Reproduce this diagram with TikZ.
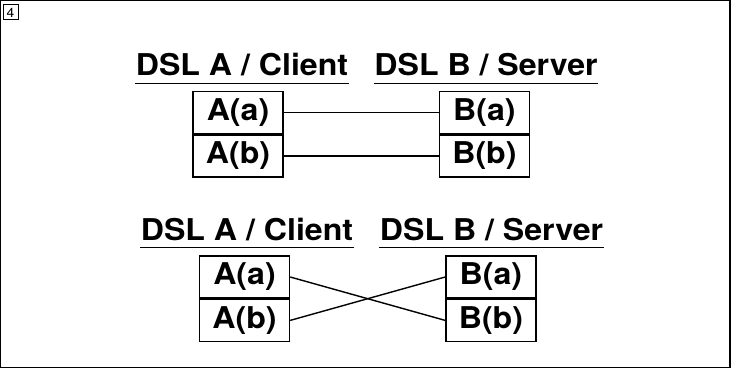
\documentclass[tikz,border=0pt]{standalone}
\usepackage{fontspec}
\setmainfont{TeX Gyre Heros}[FakeStretch=1.07]
\usetikzlibrary{positioning}

\begin{document}
\begin{tikzpicture}[x=1pt, y=-1pt, line width=1.4pt,
    cell/.style={draw, minimum width=90pt, minimum height=42pt, inner sep=0pt,
        font=\fontsize{30}{30}\selectfont\bfseries},
    head/.style={inner sep=0pt, anchor=base, font=\fontsize{30}{30}\selectfont\bfseries},
    uline/.style={line width=1.4pt}]
    \useasboundingbox (0,0) rectangle (735,369);
    \draw (0.7,0.7) rectangle (730,367.5);
    \node [draw, line width=1pt, minimum size=15pt, inner sep=0pt,
        font=\fontsize{13}{13}\selectfont] (num) at (10.5,12.5) {4};

    \node [head] (ha1) at (242,75.7) {DSL A / Client};
    \node [head] (hb1) at (486,75.7) {DSL B / Server};
    \draw [uline] ([yshift=-8pt]ha1.base west) -- ([yshift=-8pt]ha1.base east);
    \draw [uline] ([yshift=-8pt]hb1.base west) -- ([yshift=-8pt]hb1.base east);

    \node [cell] (aa1) at (238,112.5) {A(a)};
    \node [cell, below=0pt of aa1] (ab1) {A(b)};
    \node [cell, right=155pt of aa1] (ba1) {B(a)};
    \node [cell, below=0pt of ba1] (bb1) {B(b)};
    \draw (aa1) -- (ba1);
    \draw (ab1) -- (bb1);

    \node [head] (ha2) at (247,240.7) {DSL A / Client};
    \node [head] (hb2) at (491.5,240.7) {DSL B / Server};
    \draw [uline] ([yshift=-7pt]ha2.base west) -- ([yshift=-7pt]ha2.base east);
    \draw [uline] ([yshift=-7pt]hb2.base west) -- ([yshift=-7pt]hb2.base east);

    \node [cell] (aa2) at (244.5,277) {A(a)};
    \node [cell, below=0pt of aa2] (ab2) {A(b)};
    \node [cell, right=155pt of aa2] (ba2) {B(a)};
    \node [cell, below=0pt of ba2] (bb2) {B(b)};
    \draw (aa2.east) -- (bb2.west);
    \draw (ab2.east) -- (ba2.west);
\end{tikzpicture}
\end{document}
